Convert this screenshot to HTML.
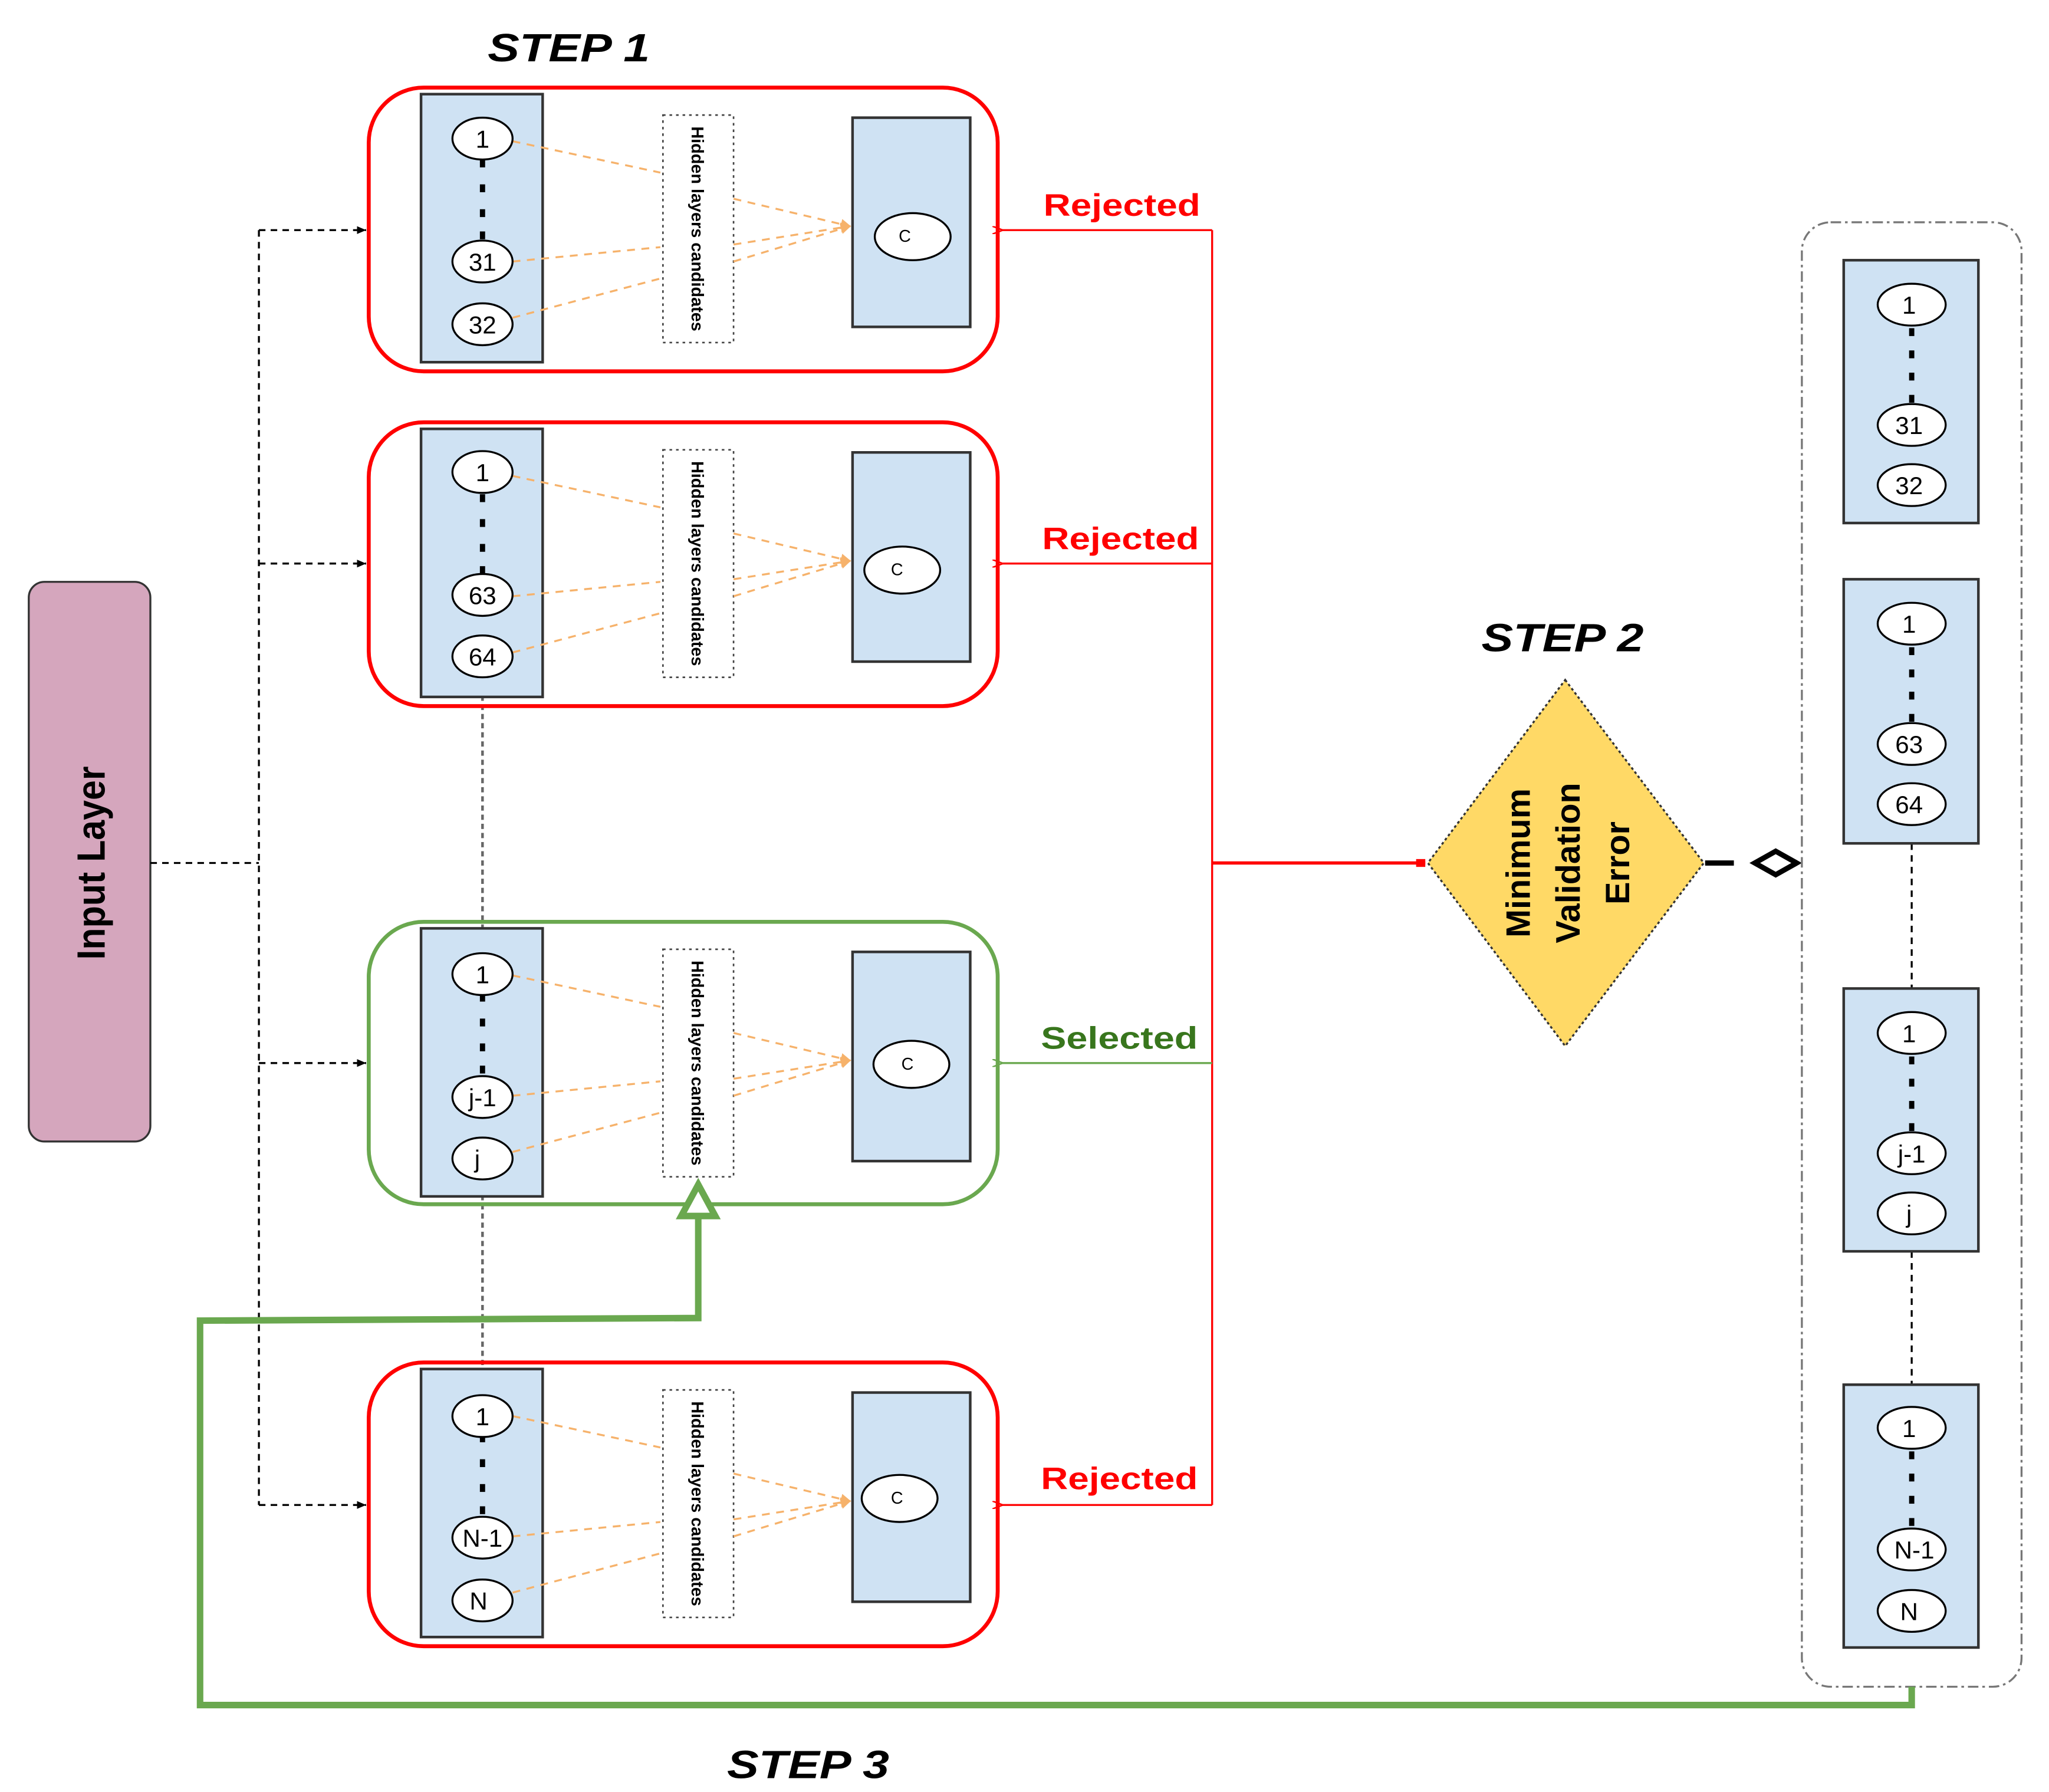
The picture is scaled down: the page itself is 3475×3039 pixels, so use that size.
<!DOCTYPE html>
<html><head><meta charset="utf-8"><style>html,body{margin:0;padding:0;background:#fff}svg{display:block}</style></head>
<body>
<svg width="3475" height="3039" viewBox="0 0 1567 1370.5" preserveAspectRatio="none" xmlns="http://www.w3.org/2000/svg" font-family="Liberation Sans, sans-serif">
<defs>
<marker id="oa" markerWidth="8" markerHeight="8" refX="7" refY="4" orient="auto" markerUnits="userSpaceOnUse"><path d="M0,0 L8,4 L0,8 z" fill="#f6b26b"/></marker>
<marker id="ka" markerWidth="7" markerHeight="6" refX="7" refY="3" orient="auto" markerUnits="userSpaceOnUse"><path d="M0,0 L7,3 L0,6 z" fill="#000"/></marker>
<marker id="ra" markerWidth="8" markerHeight="6" refX="1" refY="3" orient="auto" markerUnits="userSpaceOnUse"><path d="M8,0 L0,3 L8,6" fill="none" stroke="#f00" stroke-width="1.2"/></marker>
<marker id="ga" markerWidth="8" markerHeight="6" refX="1" refY="3" orient="auto" markerUnits="userSpaceOnUse"><path d="M8,0 L0,3 L8,6" fill="none" stroke="#6aa84f" stroke-width="1.2"/></marker>
<g id="core">
<rect x="322" y="5" width="93" height="205" fill="#cfe2f3" stroke="#333" stroke-width="2"/>
<g fill="#000"><rect x="367" y="55" width="4" height="6"/><rect x="367" y="74" width="4" height="6"/><rect x="367" y="93" width="4" height="6"/><rect x="367" y="110" width="4" height="6"/></g>
<rect x="507" y="21" width="54" height="174" fill="#fff" stroke="#444" stroke-width="1.2" stroke-dasharray="2,3"/>
<text transform="translate(529,108) rotate(90)" text-anchor="middle" font-size="13" font-weight="bold">Hidden layers candidates</text>
<rect x="652" y="23" width="90" height="160" fill="#cfe2f3" stroke="#333" stroke-width="2"/>
<g stroke="#f6b26b" stroke-width="1.5" stroke-dasharray="6,5" fill="none">
<line x1="392" y1="41" x2="505" y2="65"/><line x1="561" y1="85" x2="650" y2="106" marker-end="url(#oa)"/>
<line x1="392" y1="133" x2="505" y2="122"/><line x1="561" y1="120" x2="650" y2="106" marker-end="url(#oa)"/>
<line x1="392" y1="176" x2="505" y2="146"/><line x1="561" y1="133" x2="650" y2="106" marker-end="url(#oa)"/>
</g>
</g>
</defs>

<rect x="22" y="445" width="93" height="428" rx="12" fill="#d5a6bd" stroke="#333" stroke-width="1.5"/>
<text transform="translate(80,660) rotate(-90)" text-anchor="middle" font-size="30" font-weight="bold" textLength="148" lengthAdjust="spacingAndGlyphs">Input Layer</text>

<g stroke="#000" stroke-width="1.5" stroke-dasharray="5,4" fill="none">
<line x1="115" y1="660" x2="198" y2="660"/>
<line x1="198" y1="176" x2="198" y2="1151"/>
<line x1="198" y1="176" x2="280" y2="176" marker-end="url(#ka)"/>
<line x1="198" y1="431" x2="280" y2="431" marker-end="url(#ka)"/>
<line x1="198" y1="813" x2="280" y2="813" marker-end="url(#ka)"/>
<line x1="198" y1="1151" x2="280" y2="1151" marker-end="url(#ka)"/>
</g>
<g stroke="#666" stroke-width="2" stroke-dasharray="4,3"><line x1="369" y1="532" x2="369" y2="710"/><line x1="369" y1="914" x2="369" y2="1048"/></g>

<g transform="translate(0,67)"><use href="#core"/><rect x="282" y="0" width="481" height="217" rx="42" fill="none" stroke="#f00" stroke-width="3"/>
<g stroke="#000" stroke-width="1.5" fill="#fff"><ellipse cx="369" cy="39" rx="23" ry="16"/><ellipse cx="369" cy="133" rx="23" ry="16"/><ellipse cx="369" cy="181" rx="23" ry="16"/><ellipse cx="698" cy="114" rx="29" ry="18"/></g>
<g font-size="19" text-anchor="middle"><text x="369" y="46">1</text><text x="369" y="140">31</text><text x="369" y="188">32</text><text x="692" y="118" font-size="13">C</text></g></g>

<g transform="translate(0,323)"><use href="#core"/><rect x="282" y="0" width="481" height="217" rx="42" fill="none" stroke="#f00" stroke-width="3"/>
<g stroke="#000" stroke-width="1.5" fill="#fff"><ellipse cx="369" cy="38" rx="23" ry="16"/><ellipse cx="369" cy="132" rx="23" ry="16"/><ellipse cx="369" cy="179" rx="23" ry="16"/><ellipse cx="690" cy="113" rx="29" ry="18"/></g>
<g font-size="19" text-anchor="middle"><text x="369" y="45">1</text><text x="369" y="139">63</text><text x="369" y="186">64</text><text x="686" y="117" font-size="13">C</text></g></g>

<g transform="translate(0,705)"><use href="#core"/><rect x="282" y="0" width="481" height="216" rx="42" fill="none" stroke="#6aa84f" stroke-width="3"/>
<g stroke="#000" stroke-width="1.5" fill="#fff"><ellipse cx="369" cy="40" rx="23" ry="16"/><ellipse cx="369" cy="134" rx="23" ry="16"/><ellipse cx="369" cy="181" rx="23" ry="16"/><ellipse cx="697" cy="109" rx="29" ry="18"/></g>
<g font-size="19" text-anchor="middle"><text x="369" y="47">1</text><text x="369" y="141">j-1</text><text x="365" y="188">j</text><text x="694" y="113" font-size="13">C</text></g></g>

<g transform="translate(0,1042)"><use href="#core"/><rect x="282" y="0" width="481" height="217" rx="42" fill="none" stroke="#f00" stroke-width="3"/>
<g stroke="#000" stroke-width="1.5" fill="#fff"><ellipse cx="369" cy="41" rx="23" ry="16"/><ellipse cx="369" cy="134" rx="23" ry="16"/><ellipse cx="369" cy="182" rx="23" ry="16"/><ellipse cx="688" cy="104" rx="29" ry="18"/></g>
<g font-size="19" text-anchor="middle"><text x="369" y="48">1</text><text x="369" y="141">N-1</text><text x="366" y="189">N</text><text x="686" y="108" font-size="13">C</text></g></g>

<g stroke="#f00" stroke-width="1.5" fill="none">
<line x1="927" y1="176" x2="927" y2="1151"/>
<line x1="927" y1="176" x2="766" y2="176" marker-end="url(#ra)"/>
<line x1="927" y1="431" x2="766" y2="431" marker-end="url(#ra)"/>
<line x1="927" y1="1151" x2="766" y2="1151" marker-end="url(#ra)"/>
<line x1="927" y1="660" x2="1090" y2="660" stroke-width="2.5"/>
</g>
<rect x="1083" y="657" width="7" height="6" fill="#f00"/>
<line x1="927" y1="813" x2="766" y2="813" stroke="#6aa84f" stroke-width="1.5" marker-end="url(#ga)"/>
<g font-size="24" font-weight="bold" text-anchor="middle">
<text x="858" y="165" fill="#f00" textLength="120" lengthAdjust="spacingAndGlyphs">Rejected</text>
<text x="857" y="420" fill="#f00" textLength="120" lengthAdjust="spacingAndGlyphs">Rejected</text>
<text x="856" y="802" fill="#38761d" textLength="120" lengthAdjust="spacingAndGlyphs">Selected</text>
<text x="856" y="1139" fill="#f00" textLength="120" lengthAdjust="spacingAndGlyphs">Rejected</text>
</g>

<g font-size="30" font-weight="bold" font-style="italic" text-anchor="middle">
<text x="435" y="47" textLength="124" lengthAdjust="spacingAndGlyphs">STEP 1</text><text x="1195" y="498" textLength="124" lengthAdjust="spacingAndGlyphs">STEP 2</text><text x="618" y="1360" textLength="124" lengthAdjust="spacingAndGlyphs">STEP 3</text>
</g>

<polygon points="1197,520 1303,660 1197,800 1092,660" fill="#ffd966" stroke="#333" stroke-width="1.5" stroke-dasharray="2,2"/>
<g font-size="26" font-weight="bold" text-anchor="middle">
<text transform="translate(1170,660) rotate(-90)">Minimum</text>
<text transform="translate(1208,660) rotate(-90)">Validation</text>
<text transform="translate(1246,660) rotate(-90)">Error</text>
</g>
<line x1="1304" y1="660" x2="1326" y2="660" stroke="#000" stroke-width="4"/>
<polygon points="1342,660 1358,651 1374,660 1358,669" fill="#fff" stroke="#000" stroke-width="4"/>

<rect x="1378" y="170" width="168" height="1120" rx="22" fill="none" stroke="#777" stroke-width="1.5" stroke-dasharray="8,3,2,3"/>
<g stroke="#000" stroke-width="1.5" stroke-dasharray="5,4"><line x1="1462" y1="645" x2="1462" y2="756"/><line x1="1462" y1="957" x2="1462" y2="1059"/></g>
<g fill="#cfe2f3" stroke="#333" stroke-width="2">
<rect x="1410" y="199" width="103" height="201"/><rect x="1410" y="443" width="103" height="202"/><rect x="1410" y="756" width="103" height="201"/><rect x="1410" y="1059" width="103" height="201"/>
</g>
<g fill="#000">
<rect x="1460" y="251" width="4" height="6"/><rect x="1460" y="268" width="4" height="6"/><rect x="1460" y="285" width="4" height="6"/><rect x="1460" y="302" width="4" height="6"/>
<rect x="1460" y="495" width="4" height="6"/><rect x="1460" y="512" width="4" height="6"/><rect x="1460" y="529" width="4" height="6"/><rect x="1460" y="546" width="4" height="6"/>
<rect x="1460" y="808" width="4" height="6"/><rect x="1460" y="825" width="4" height="6"/><rect x="1460" y="842" width="4" height="6"/><rect x="1460" y="859" width="4" height="6"/>
<rect x="1460" y="1110" width="4" height="6"/><rect x="1460" y="1127" width="4" height="6"/><rect x="1460" y="1144" width="4" height="6"/><rect x="1460" y="1161" width="4" height="6"/>
</g>
<g stroke="#000" stroke-width="1.5" fill="#fff">
<ellipse cx="1462" cy="233" rx="26" ry="16"/><ellipse cx="1462" cy="325" rx="26" ry="16"/><ellipse cx="1462" cy="371" rx="26" ry="16"/>
<ellipse cx="1462" cy="477" rx="26" ry="16"/><ellipse cx="1462" cy="569" rx="26" ry="16"/><ellipse cx="1462" cy="615" rx="26" ry="16"/>
<ellipse cx="1462" cy="790" rx="26" ry="16"/><ellipse cx="1462" cy="882" rx="26" ry="16"/><ellipse cx="1462" cy="928" rx="26" ry="16"/>
<ellipse cx="1462" cy="1092" rx="26" ry="16"/><ellipse cx="1462" cy="1185" rx="26" ry="16"/><ellipse cx="1462" cy="1232" rx="26" ry="16"/>
</g>
<g font-size="19" text-anchor="middle">
<text x="1460" y="240">1</text><text x="1460" y="332">31</text><text x="1460" y="378">32</text>
<text x="1460" y="484">1</text><text x="1460" y="576">63</text><text x="1460" y="622">64</text>
<text x="1460" y="797">1</text><text x="1462" y="889">j-1</text><text x="1460" y="935">j</text>
<text x="1460" y="1099">1</text><text x="1464" y="1192">N-1</text><text x="1460" y="1239">N</text>
</g>

<polyline points="1462,1290 1462,1304 153,1304 153,1010 534,1008 534,928" fill="none" stroke="#6aa84f" stroke-width="5"/>
<polygon points="534,906 547,930 521,930" fill="#fff" stroke="#6aa84f" stroke-width="5"/>
</svg>
</body></html>
